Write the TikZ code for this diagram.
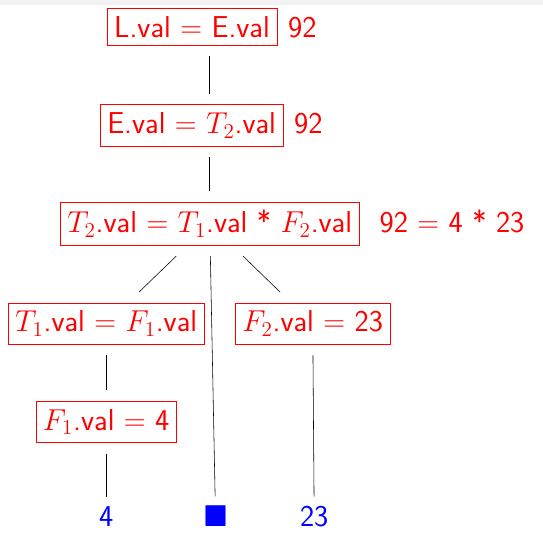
\RequirePackage{fix-cm}
\documentclass[tikz,border=0pt]{standalone}
\usepackage{amssymb}
\usetikzlibrary{positioning}

\begin{document}
\begin{tikzpicture}[
    font=\fontsize{21.5}{26}\selectfont\sffamily,
    rule/.style={draw=red, text=red, inner xsep=.18cm, inner ysep=.2cm, outer sep=.27cm},
    value/.style={text=red, inner sep=0pt},
    leaf/.style={text=blue, inner sep=0pt, outer sep=.25cm, anchor=base}
  ]
    \fill[black!5] (0,0) rectangle (13.575,-.125);
    \useasboundingbox (0,0) rectangle (13.575,-13.3);

    \node[rule] (L) at (4.8,-.668) {L.val $=$ E.val};
    \node[value, base right=0cm of L] (Lv) {92};
    \node[rule] (E) at (4.79,-3.133) {E.val $=$ $T_2$.val};
    \node[value, base right=0cm of E] (Ev) {92};
    \node[rule] (T2) at (5.243,-5.595) {$T_2$.val $=$ $T_1$.val * $F_2$.val};
    \node[value, base right=.23cm of T2] (T2v) {92 $=$ 4 * 23};
    \node[rule] (T1) at (2.655,-8.093) {$T_1$.val $=$ $F_1$.val};
    \node[rule] (F2) at (7.818,-8.093) {$F_2$.val $=$ 23};
    \node[rule] (F1) at (2.655,-10.55) {$F_1$.val $=$ 4};

    \node[leaf] (l4) at (2.655,-13.17) {4};
    \node[leaf] (sq) at (5.388,-13.17) {$\blacksquare$};
    \node[leaf] (l23) at (7.855,-13.17) {23};

    \draw (L.south -| T2.center) -- (E.north -| T2.center);
    \draw (E.south -| T2.center) -- (T2);
    \foreach \a/\b in {T2/T1,T2/sq,T2/F2,T1/F1,F1/l4,F2/l23} {
      \draw (\a) -- (\b);
    }
  \end{tikzpicture}
\end{document}
